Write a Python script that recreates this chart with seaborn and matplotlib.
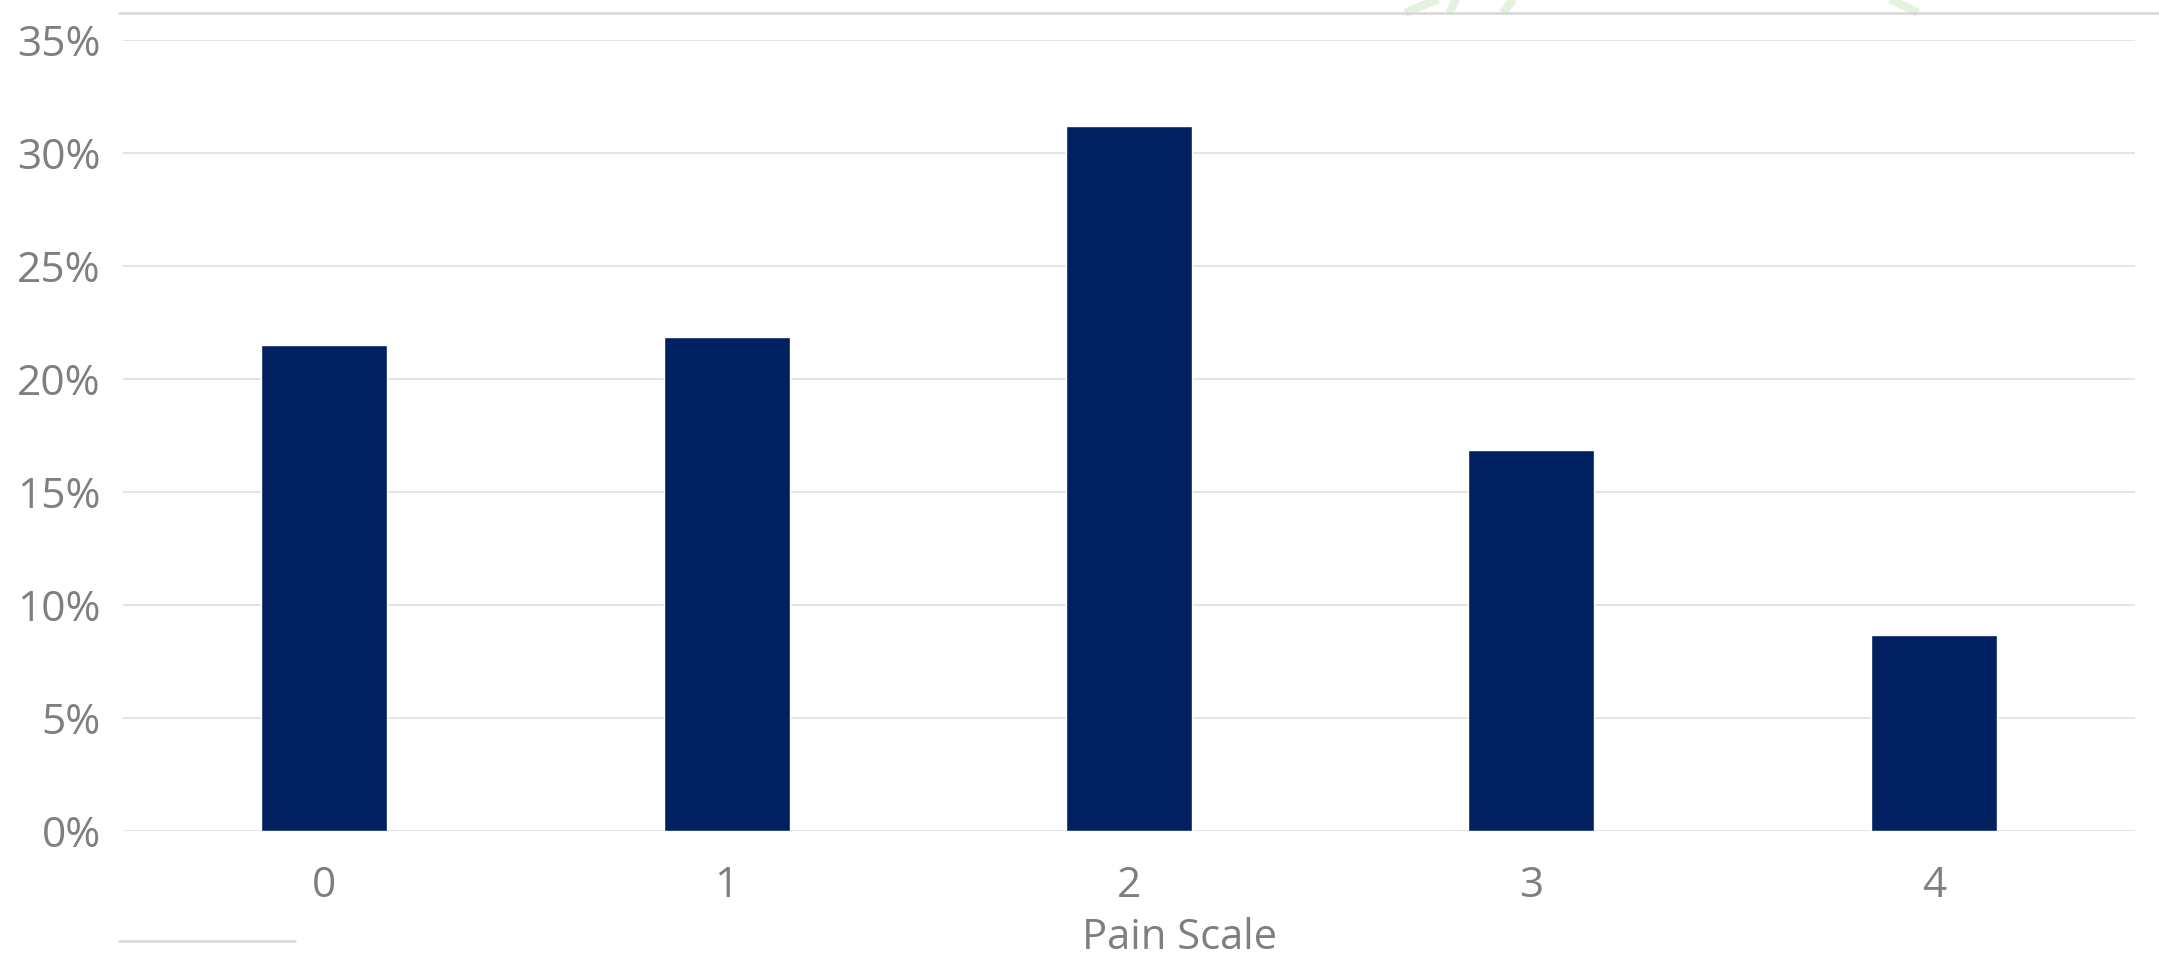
import matplotlib
matplotlib.use("Agg")
import matplotlib.pyplot as plt
from matplotlib.lines import Line2D
import seaborn as sns
import pandas as pd

# ---- data ----
pain_scale = ["0", "1", "2", "3", "4"]
share_pct = [21.50, 21.84, 31.19, 16.84, 8.67]
y_ticks = [0, 5, 10, 15, 20, 25, 30, 35]
y_tick_labels = ["0%", "5%", "10%", "15%", "20%", "25%", "30%", "35%"]
x_title = "Pain Scale"

df = pd.DataFrame({"score": pain_scale, "share": share_pct})

sns.set_theme(style="white")
plt.rcParams["font.family"] = ["Open Sans", "DejaVu Sans"]

W, H = 2159, 960
fig = plt.figure(figsize=(W / 100, H / 100), dpi=100)
fig.patch.set_facecolor("white")

left, right, top, bottom = 123, 2135, 40, 830.7
ax = fig.add_axes([left / W, 1 - bottom / H, (right - left) / W, (bottom - top) / H])

sns.barplot(data=df, x="score", y="share", order=pain_scale, color="#002060",
            saturation=1, width=0.313, ax=ax, zorder=3)

ax.set_xlim(-0.5, len(pain_scale) - 0.5)
ax.set_ylim(0, 35)
ax.set_yticks(y_ticks)
ax.set_yticklabels(y_tick_labels)
ax.grid(axis="y", color="#E2E2E2", lw=1.3, zorder=0)
ax.grid(axis="x", visible=False)
for s in ax.spines.values():
    s.set_visible(False)

grey = "#7F7F7F"
ax.tick_params(axis="y", length=0, pad=16, labelsize=30.5, labelcolor=grey)
ax.tick_params(axis="x", length=0, pad=25, labelsize=30.5, labelcolor=grey)

ax.set_ylabel("")
ax.set_xlabel(x_title, fontsize=30, color=grey)
ax.xaxis.set_label_coords((1179 - left) / (right - left), (bottom - 917) / (bottom - top))

# decorative frame lines
fig.add_artist(Line2D([119 / W, 1.0], [1 - 13 / H] * 2, color="#D6D6D6", lw=1.8, zorder=5))
fig.add_artist(Line2D([119 / W, 295 / W], [1 - 940.7 / H] * 2, color="#D6D6D6", lw=1.8, zorder=5))

# faint watermark strokes peeking above the top line
for (x0, y0, x1, y1) in [(1405, 13, 1450, -6), (1449, 13, 1459, -6),
                         (1503, 13, 1517, -6), (1918, 13, 1880, -6)]:
    fig.add_artist(Line2D([x0 / W, x1 / W], [1 - y0 / H, 1 - y1 / H],
                          color="#E4F1DC", lw=6, zorder=1, solid_capstyle="butt"))

fig.savefig("out.png", dpi=100, facecolor="white")
